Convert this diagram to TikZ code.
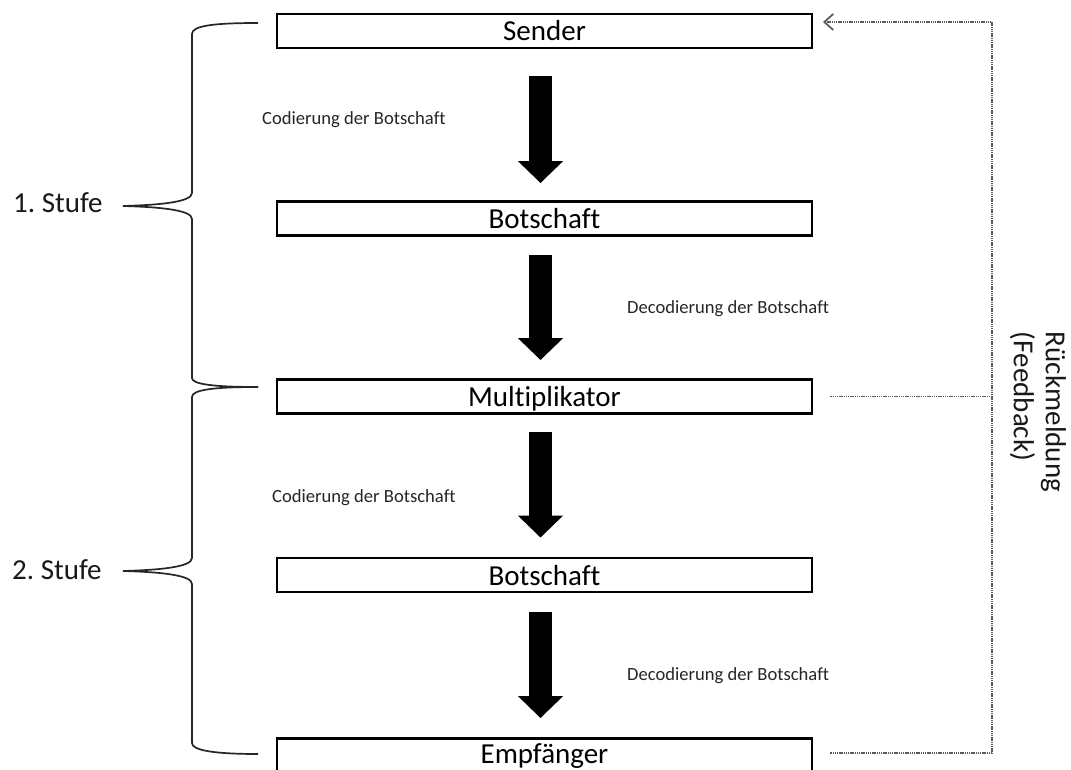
\documentclass[tikz,border=0pt]{standalone}
\usepackage{fontspec}
\setmainfont{Carlito}[Ligatures={NoCommon}]
\usetikzlibrary{arrows.meta}
\begin{document}
\frenchspacing
\begin{tikzpicture}[x=1pt,y=-1pt,
  box/.style={draw=black, line width=2.9pt, minimum width=535pt, minimum height=34pt,
    inner sep=0pt, text height=20pt, text depth=0pt, font=\fontsize{29}{34}\selectfont},
  blockarrow/.style={line width=23pt, -{Triangle[width=44pt,length=22pt]}},
  lbl/.style={font=\fontsize{18.6}{22}\selectfont, text=black!85, inner sep=0pt, anchor=base west},
  stufe/.style={font=\fontsize{29}{34}\selectfont, text=black!90, inner sep=0pt, anchor=base west},
  brace/.style={line width=1.7pt, draw=black!85},
  fb/.style={draw=black!65, line width=1.6pt, dash pattern=on 1.3pt off 0.9pt},
  fbtip/.style={-{Straight Barb[length=9pt,width=16pt,line width=1.7pt]}},
]
\useasboundingbox (0,0) rectangle (1071,770);
\fill[white] (0,0) rectangle (1071,770);

% boxes
\node[box] (sender) at (544.5,31)   {Sender};
\node[box] (bot1)   at (544.5,218.5) {Botschaft};
\node[box] (mult)   at (544.5,396.5) {Multiplikator};
\node[box] (bot2)   at (544.5,575)   {Botschaft};
\node[box, text height=20pt, text depth=5pt] (empf) at (544.5,755.5) {Empfänger};

% block arrows
\draw[blockarrow, shorten <=27pt, shorten >=17pt] ([xshift=-4pt]sender.south) -- ([xshift=-4pt]bot1.north);
\draw[blockarrow, shorten <=18pt, shorten >=18pt] ([xshift=-4pt]bot1.south) -- ([xshift=-4pt]mult.north);
\draw[blockarrow, shorten <=17pt, shorten >=19pt] ([xshift=-4pt]mult.south) -- ([xshift=-4pt]bot2.north);
\draw[blockarrow, shorten <=19pt, shorten >=19pt] ([xshift=-4pt]bot2.south) -- ([xshift=-4pt]empf.north);

% arrow labels
\node[lbl] (l1) at (262,125) {Codierung der Botschaft};
\node[lbl] (l2) at (627,313) {Decodierung der Botschaft};
\node[lbl] (l3) at (272,502) {Codierung der Botschaft};
\node[lbl] (l4) at (627,680) {Decodierung der Botschaft};

% braces
\draw[brace] (258,23) .. controls (212,23) and (192,26) .. (192,34)
  -- (192,193) .. controls (192,202) and (160,205) .. (123,206)
  .. controls (160,207) and (192,210) .. (192,219)
  -- (192,378) .. controls (192,384) and (212,387) .. (258,387);
\draw[brace] (258,387) .. controls (212,387) and (192,390) .. (192,397)
  -- (192,558) .. controls (192,567) and (160,570) .. (123,571)
  .. controls (160,572) and (192,575) .. (192,584)
  -- (192,743) .. controls (192,750) and (212,754) .. (258,754);
\node[stufe] (s1) at (13,213) {1. Stufe};
\node[stufe] (s2) at (12,579) {2. Stufe};

% feedback
\coordinate (fbtr) at (992,22);
\coordinate (fbend) at (823,22);
\draw[fb] ([xshift=17pt]mult.east) -- (mult.east -| fbtr);
\draw[fb, fbtip] ([xshift=17pt,yshift=2.5pt]empf.east) -| (fbtr) -- (fbend);
\node[rotate=-90, align=left, font=\fontsize{29}{32}\selectfont, text=black!90, inner sep=0pt]
  (fbl) at (1038,412) {Rückmeldung\\(Feedback)};
\end{tikzpicture}
\end{document}
